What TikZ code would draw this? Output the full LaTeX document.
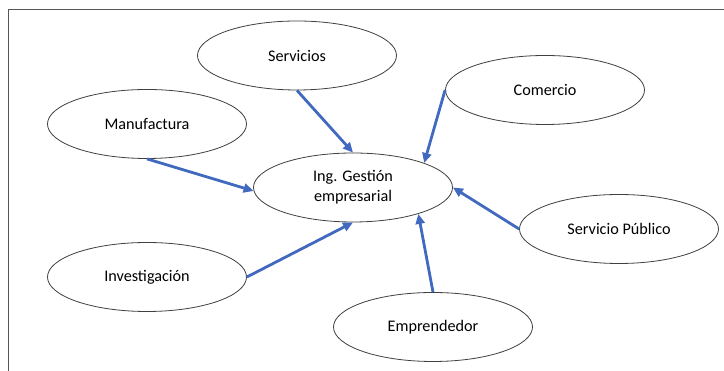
\documentclass[tikz,border=0pt]{standalone}
\usepackage{fontspec}
\setmainfont{Carlito}
\usetikzlibrary{shapes.geometric,arrows.meta}
\definecolor{arrowblue}{HTML}{4169C0}
\definecolor{framegray}{HTML}{555555}
\tikzset{
  bubble/.style={ellipse, draw=black!75, line width=0.8pt, fill=white,
    minimum width=199pt, minimum height=69pt, inner sep=0pt,
    font=\fontsize{16.2}{20}\selectfont, align=center},
  link/.style={draw=arrowblue, line width=2.8pt,
    -{Triangle[length=10pt,width=9pt]}},
}
\begin{document}
\begin{tikzpicture}[x=1pt,y=1pt]
\useasboundingbox (0,0) rectangle (724,371);
\fill[white] (0,0) rectangle (724,371);
\draw[framegray, line width=1pt] (8,0) -- (8,361) -- (724,361);
\node[bubble] (c) at (353,183.5) {Ing. Gestión\\empresarial};
\node[bubble] (serv) at (297,315.5) {Servicios};
\node[bubble] (com) at (545,281) {Comercio};
\node[bubble] (man) at (147,247) {Manufactura};
\node[bubble] (sp) at (619,142) {Servicio Público};
\node[bubble] (inv) at (147,94) {Investigación};
\node[bubble] (emp) at (433,44) {Emprendedor};
\draw[link] (serv.south) -- (c.north);
\draw[link] (com.west) -- (c.19);
\draw[link] (man.south) -- (c.182);
\draw[link] (sp.west) -- (c.east);
\draw[link] (inv.east) -- (c.south);
\draw[link] (emp.north) -- (c.-22);
\end{tikzpicture}
\end{document}
